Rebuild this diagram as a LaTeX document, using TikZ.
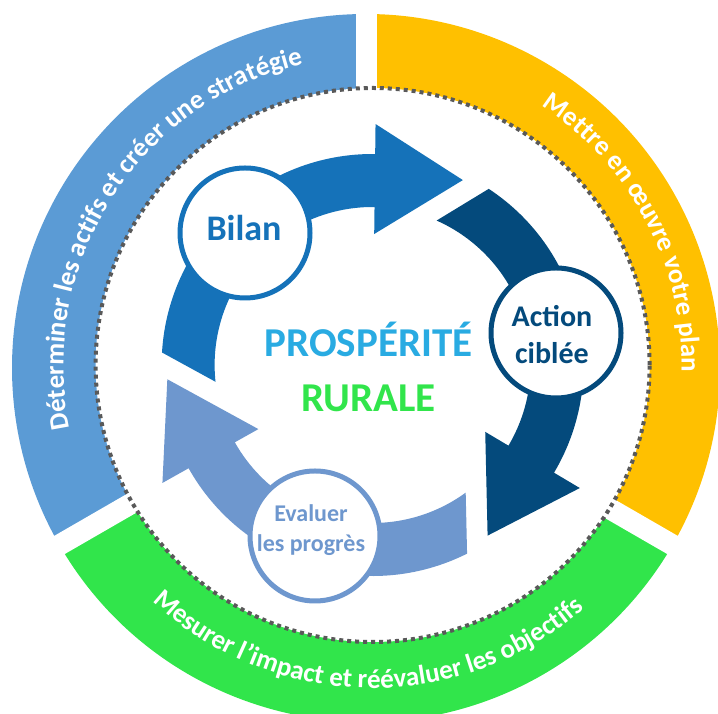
\documentclass[tikz,border=0pt]{standalone}
\usepackage{fontspec}
\setmainfont{Carlito}
\usetikzlibrary{decorations.text}
\definecolor{ringblue}{HTML}{5B9BD5}
\definecolor{ringorange}{HTML}{FFC000}
\definecolor{ringgreen}{HTML}{31E54B}
\definecolor{arrowA}{HTML}{1572B9}
\definecolor{arrowB}{HTML}{044A7C}
\definecolor{arrowC}{HTML}{6E97CE}
\definecolor{dotgray}{HTML}{595959}
\definecolor{prosp}{HTML}{29ABE2}
\newcommand\ringfont{\fontsize{27}{27}\selectfont\bfseries}
\begin{document}
\begin{tikzpicture}[x=1pt,y=1pt,
  stage/.style={circle, draw=#1, line width=5pt, fill=white, minimum size=130pt, inner sep=0pt},
  lbl/.style={anchor=base, inner sep=0pt, font=\fontsize{#1}{#1}\selectfont\bfseries},
  ringtext/.style={decorate, decoration={text along path, text={|\ringfont|#1}, text color=white, text align=center}}]
\useasboundingbox (0,0) rectangle (718,714);
\clip (0,0) rectangle (718,714);
\coordinate (O) at (366,346);
\coordinate (D) at (372.6,349);
% outer ring
\fill[ringorange] (O) -- ++(-30:354) arc[start angle=-30,end angle=90,radius=354] -- cycle;
\fill[ringblue] (O) -- ++(90:354) arc[start angle=90,end angle=210,radius=354] -- cycle;
\fill[ringgreen] (O) -- ++(210:354) arc[start angle=210,end angle=330,radius=354] -- cycle;
\foreach \a in {90,210,330} \draw[white, line width=21pt] (O) -- ++(\a:380);
\fill[white] (D) circle[radius=277];
\draw[dotgray, line width=4pt, dash pattern=on 4pt off 4pt] (D) circle[radius=277];
% ring texts
\path[shift={(D)}, ringtext={Déterminer les actifs et créer une stratégie}] (207.4:309) arc[start angle=207.4, end angle=87.4, radius=309];
\path[shift={(D)}, ringtext={Mettre en œuvre votre plan}] (87.8:309) arc[start angle=87.8, end angle=-32.2, radius=309];
\path[shift={(D)}, ringtext={Mesurer l'impact et réévaluer les objectifs}] (209:323) arc[start angle=209, end angle=329, radius=323];
% cycle arrows
\foreach \r/\c in {-0.7/arrowA, -120.7/arrowB, 119.3/arrowC} {
  \begin{scope}[shift={(D)}, rotate=\r]
    \fill[\c] (177.3:211) arc[start angle=177.3, end angle=90, radius=211] -- (0,241) -- (88,186) -- (0,131) -- (0,158) arc[start angle=90, end angle=186.8, radius=158] -- cycle;
  \end{scope}
}
% stage circles
\node[stage=arrowA] (bilan) at (245,481) {};
\node[stage=arrowB] (action) at (556,381) {};
\node[stage=arrowC] (evaluer) at (315,178) {};
% texts
\node[lbl=36, text=arrowA] (bilantxt) at (244,473) {Bilan};
\node[lbl=30, text=arrowB] (actiontxt) at (552,387) {Action};
\node[lbl=30, text=arrowB] (cibleetxt) at (552,350) {ciblée};
\node[lbl=24, text=arrowC] (evaltxt) at (311,192.3) {Evaluer};
\node[lbl=24, text=arrowC] (progtxt) at (311,162.3) {les progrès};
\node[lbl=41, text=prosp] (prosptxt) at (368.5,357) {PROSPÉRITÉ};
\node[lbl=41, text=ringgreen] (ruraletxt) at (368.5,302.3) {RURALE};
\end{tikzpicture}
\end{document}
